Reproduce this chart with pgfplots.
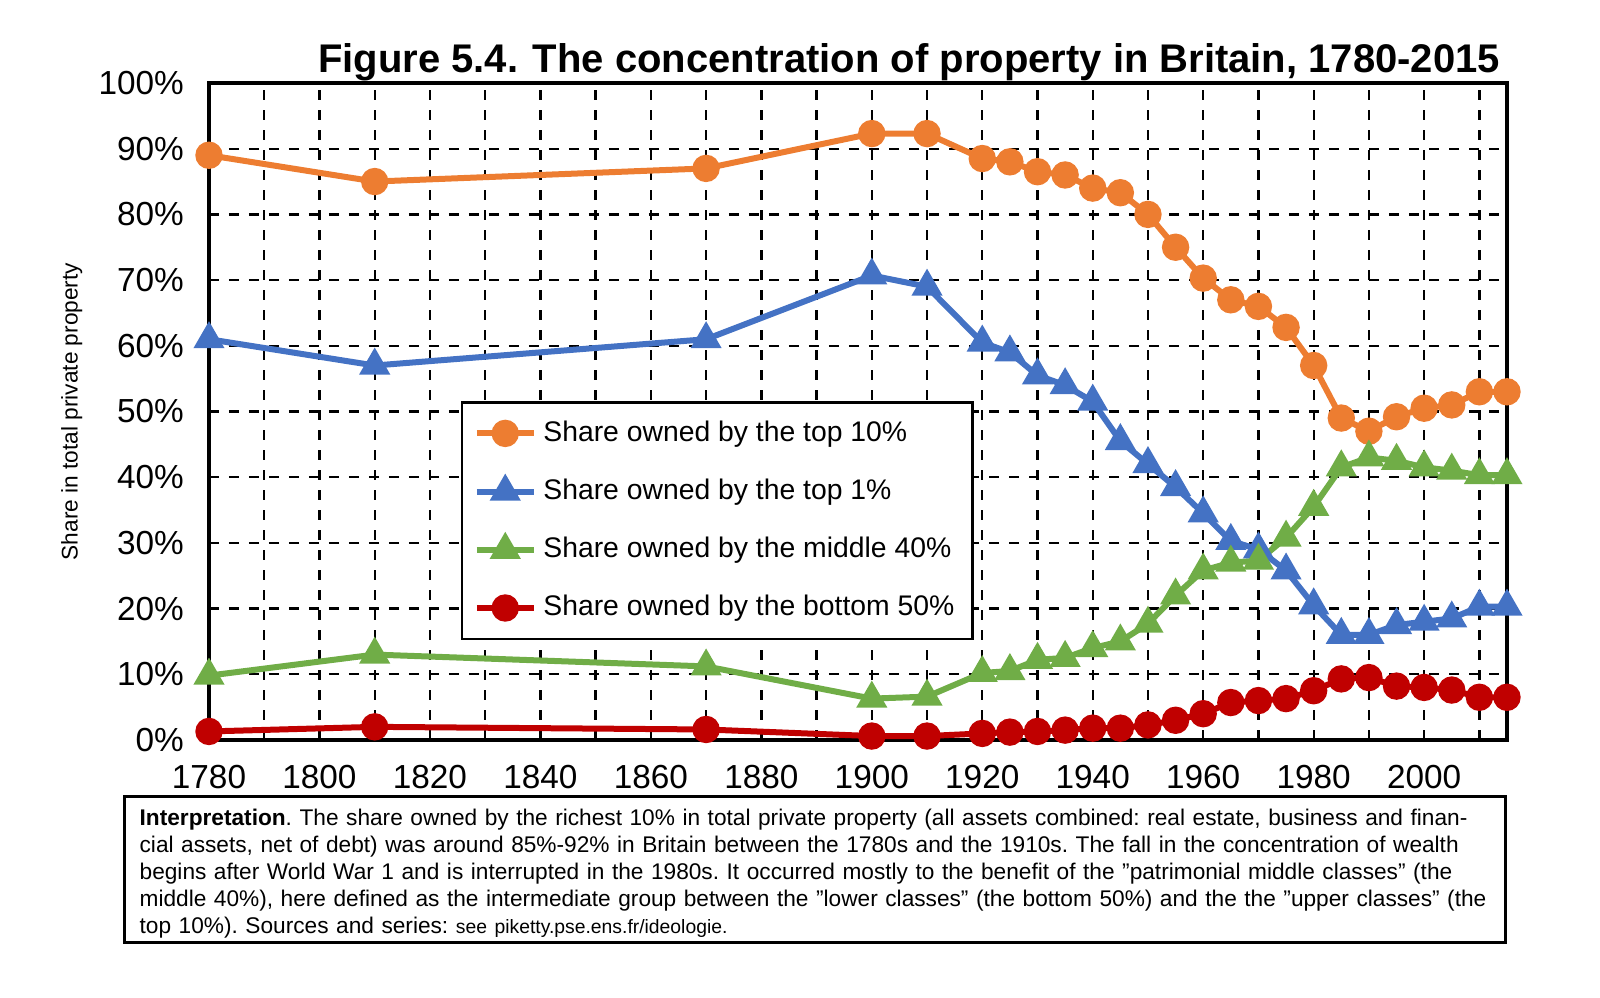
\documentclass[border=0pt]{standalone}
\usepackage{pgfplots}
\pgfplotsset{compat=1.18}
\usepackage{fontspec}
\setmainfont{Liberation Sans}
\definecolor{cO}{HTML}{ED7D31}
\definecolor{cB}{HTML}{4472C4}
\definecolor{cG}{HTML}{70AD47}
\definecolor{cR}{HTML}{C00000}
\newcommand{\q}{\symbol{34}}
\begin{document}
\begin{tikzpicture}
\begin{axis}[scale only axis, width=389.4pt, height=197.1pt,
 xmin=1780, xmax=2015, ymin=0, ymax=100,
 xtick={1780,1800,...,2000}, minor xtick={1790,1810,...,2010},
 ytick={0,10,...,100}, yticklabel={\pgfmathprintnumber{\tick}\%},
 /pgf/number format/assume math mode=true,
 xticklabel style={/pgf/number format/1000 sep={}, yshift=-4pt},
 yticklabel style={xshift=-4pt},
 tick label style={font=\fontsize{10}{12}\selectfont},
 grid=both, major grid style={black, dashed, line width=0.7pt},
 minor grid style={black, dashed, line width=0.7pt},
 axis line style={line width=1.2pt}, tick style={black},
 major tick length=0pt, minor tick length=0pt,
 ylabel={Share in total private property}, ylabel style={font=\fontsize{6.8}{8}\selectfont, yshift=-2pt},
 legend style={at={(0.194,0.516)}, anchor=north west, draw=black, line width=0.8pt,
   font=\fontsize{8.5}{10}\selectfont, row sep=5.8pt, inner sep=3.5pt},
 legend cell align=left,
 every axis plot/.append style={line width=1.8pt},
 clip=false]
\addplot[cO, mark=*, mark size=3.2pt] coordinates {(1780,89)(1810,85)(1870,87)(1900,92.3)(1910,92.3)(1920,88.5)(1925,88)(1930,86.5)(1935,86)(1940,84)(1945,83.3)(1950,80)(1955,75)(1960,70.3)(1965,67)(1970,66)(1975,62.8)(1980,57)(1985,49)(1990,47)(1995,49.2)(2000,50.5)(2005,51)(2010,53)(2015,53)};
\addlegendentry{Share owned by the top 10\%}
\addplot[cB, mark=triangle*, mark size=3.6pt] coordinates {(1780,61)(1810,57)(1870,61)(1900,70.7)(1910,69)(1920,60.5)(1925,59)(1930,55.5)(1935,54)(1940,51.5)(1945,45.5)(1950,42)(1955,38.5)(1960,34.5)(1965,30.3)(1970,29)(1975,25.8)(1980,20.5)(1985,16)(1990,16)(1995,17.5)(2000,18)(2005,18.5)(2010,20.3)(2015,20.3)};
\addlegendentry{Share owned by the top 1\%}
\addplot[cG, mark=triangle*, mark size=3.6pt] coordinates {(1780,9.8)(1810,13)(1870,11.2)(1900,6.3)(1910,6.6)(1920,10.2)(1925,10.5)(1930,12.2)(1935,12.5)(1940,14)(1945,15)(1950,17.7)(1955,22)(1960,25.8)(1965,27)(1970,27.3)(1975,30.8)(1980,35.5)(1985,41.5)(1990,43)(1995,42.5)(2000,41.5)(2005,41)(2010,40.3)(2015,40.3)};
\addlegendentry{Share owned by the middle 40\%}
\addplot[cR, mark=*, mark size=3.2pt] coordinates {(1780,1.3)(1810,2)(1870,1.6)(1900,0.6)(1910,0.6)(1920,1)(1925,1.2)(1930,1.3)(1935,1.5)(1940,1.8)(1945,1.8)(1950,2.3)(1955,3)(1960,4)(1965,5.7)(1970,6)(1975,6.3)(1980,7.5)(1985,9.3)(1990,9.5)(1995,8.2)(2000,8)(2005,7.6)(2010,6.5)(2015,6.5)};
\addlegendentry{Share owned by the bottom 50\%}
\end{axis}
\node[font=\bfseries\fontsize{12}{14}\selectfont] at (210pt,203.4pt) {Figure 5.4. The concentration of property in Britain, 1780-2015};
\draw[line width=0.9pt] (-25.2pt,-17.1pt) rectangle (388.8pt,-60.9pt);
\node[anchor=north west, text width=405pt, align=left, inner sep=0pt, font=\fontsize{6.8}{8.1}\selectfont] at (-21pt,-20.5pt)
{\frenchspacing\textbf{Interpretation}. The share owned by the richest 10\% in total private property (all assets combined: real estate, business and financial assets, net of debt) was around 85\%-92\% in Britain between the 1780s and the 1910s. The fall in the concentration of wealth begins after World War 1 and is interrupted in the 1980s. It occurred mostly to the benefit of the \q patrimonial middle classes\q{} (the middle 40\%), here defined as the intermediate group between the \q lower classes\q{} (the bottom 50\%) and the the \q upper classes\q{} (the top 10\%). Sources and series: {\fontsize{5.8}{8}\selectfont see piketty.pse.ens.fr/ideologie.}};
\pgfresetboundingbox
\path (-62.7pt,222pt) rectangle (417.3pt,-77.4pt);
\end{tikzpicture}
\end{document}
